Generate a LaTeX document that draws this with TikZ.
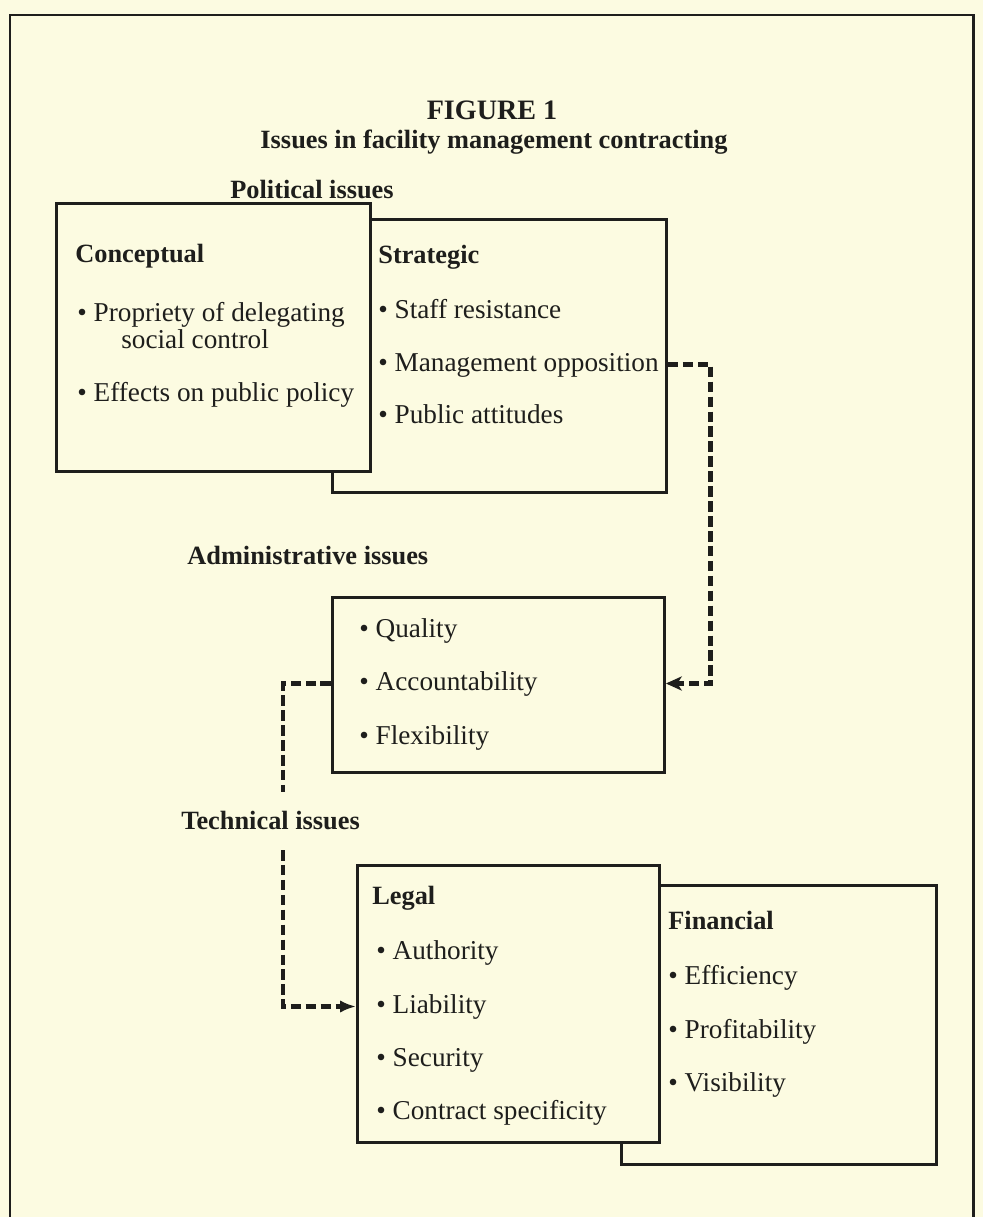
\documentclass[tikz,border=0pt]{standalone}
\usepackage{fontspec}
\setmainfont{Liberation Serif}
\usetikzlibrary{arrows.meta}
\definecolor{paper}{RGB}{252,251,225}
\definecolor{ink}{RGB}{30,30,28}

\begin{document}
\begin{tikzpicture}[x=0.02cm,y=-0.02cm,
    every node/.style={font=\fontsize{15.5}{17}\selectfont,text=ink,inner sep=0pt},
    head/.style={anchor=base west,font=\fontsize{15}{16}\selectfont\bfseries},
    item/.style={anchor=base west},
    panel/.style={draw=ink,line width=1.7pt,fill=paper,anchor=north west},
    link/.style={draw=ink,line width=2.8pt,dash pattern=on 6pt off 2.5pt}]
  \useasboundingbox (0,0) rectangle (983,1217);
  \fill[paper] (0,0) rectangle (983,1217);
  \draw[ink,line width=1.7pt] (10,1230)--(10,15)--(973,15)--(973,1230);
  % heading
  \node[anchor=base,font=\fontsize{16}{18}\selectfont\bfseries] (fig) at (492,119) {FIGURE 1};
  \node[anchor=base,font=\fontsize{15}{16}\selectfont\bfseries] (sub) at (494,148) {Issues in facility management contracting};
  % political issues
  \node[head] (pol) at (230,198) {Political issues};
  \node[panel,minimum width=6.68cm,minimum height=5.46cm] (strat) at (331,218) {};
  \node[panel,minimum width=6.28cm,minimum height=5.36cm] (conc) at (55,202) {};
  \node[head] (concT) at (75,262) {Conceptual};
  \node[item] (prop) at (77,321) {\textbullet\ Propriety of delegating};
  \node[item] (prop2) at (121,348) {social control};
  \node[item] (eff) at (77,401) {\textbullet\ Effects on public policy};
  \node[head] (stratT) at (378,263) {Strategic};
  \node[item] (staff) at (378,318) {\textbullet\ Staff resistance};
  \node[item] (mgmt) at (378,371) {\textbullet\ Management opposition};
  \node[item] (pub) at (378,423) {\textbullet\ Public attitudes};
  % administrative issues
  \node[head] (adm) at (187,564) {Administrative issues};
  \node[panel,minimum width=6.64cm,minimum height=3.5cm] (admin) at (331,596) {};
  \node[item] (qual) at (359,637) {\textbullet\ Quality};
  \node[item] (acct) at (359,690) {\textbullet\ Accountability};
  \node[item] (flex) at (359,744) {\textbullet\ Flexibility};
  % technical issues
  \node[head] (tech) at (181,829) {Technical issues};
  \node[panel,minimum width=6.3cm,minimum height=5.58cm] (fin) at (620,884) {};
  \node[panel,minimum width=6.04cm,minimum height=5.54cm] (legal) at (356,864) {};
  \node[head] (legalT) at (372,904) {Legal};
  \node[item] (auth) at (376,959) {\textbullet\ Authority};
  \node[item] (liab) at (376,1013) {\textbullet\ Liability};
  \node[item] (sec) at (376,1066) {\textbullet\ Security};
  \node[item] (spec) at (376,1119) {\textbullet\ Contract specificity};
  \node[head] (finT) at (668,929) {Financial};
  \node[item] (effi) at (668,984) {\textbullet\ Efficiency};
  \node[item] (prof) at (668,1038) {\textbullet\ Profitability};
  \node[item] (vis) at (668,1091) {\textbullet\ Visibility};
  % connectors
  \coordinate (gapA) at (283,792);
  \coordinate (gapB) at (283,850);
  \draw[link,-{Stealth[length=9pt,width=8pt,inset=2.5pt]}] (strat.east |- mgmt) -- ++(43,0) |- (admin.east |- acct);
  \draw[link] (admin.west |- acct) -| (gapA);
  \draw[link,-{Latex[length=9pt,width=7pt]}] (gapB) |- (legal.west |- liab);
\end{tikzpicture}
\end{document}
